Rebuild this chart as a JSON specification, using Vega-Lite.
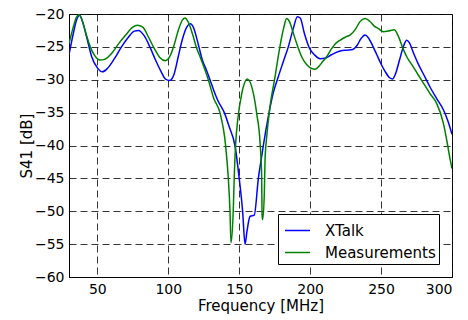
{
  "$schema": "https://vega.github.io/schema/vega-lite/v6.json",
  "width": 383,
  "height": 263,
  "autosize": {"type": "none"},
  "padding": {"left": 69, "top": 14, "right": 16, "bottom": 43},
  "background": "white",
  "config": {
    "font": "DejaVu Sans",
    "view": {"stroke": "black", "strokeWidth": 1}
  },
  "data": {
    "values": [
      {"s": "XTalk", "f": 30, "db": -26.2},
      {"s": "XTalk", "f": 33, "db": -23},
      {"s": "XTalk", "f": 35.5, "db": -20.8},
      {"s": "XTalk", "f": 37.5, "db": -20.2},
      {"s": "XTalk", "f": 40, "db": -21.5},
      {"s": "XTalk", "f": 43, "db": -24},
      {"s": "XTalk", "f": 46, "db": -26.5},
      {"s": "XTalk", "f": 50, "db": -28.2},
      {"s": "XTalk", "f": 53.5, "db": -28.8},
      {"s": "XTalk", "f": 57, "db": -28.3},
      {"s": "XTalk", "f": 62, "db": -26.8},
      {"s": "XTalk", "f": 67, "db": -25},
      {"s": "XTalk", "f": 72, "db": -23.5},
      {"s": "XTalk", "f": 76, "db": -22.6},
      {"s": "XTalk", "f": 79, "db": -22.5},
      {"s": "XTalk", "f": 83, "db": -23.3},
      {"s": "XTalk", "f": 87, "db": -25},
      {"s": "XTalk", "f": 91, "db": -27},
      {"s": "XTalk", "f": 95, "db": -28.8},
      {"s": "XTalk", "f": 98, "db": -29.9},
      {"s": "XTalk", "f": 101, "db": -30.1},
      {"s": "XTalk", "f": 104, "db": -29.2},
      {"s": "XTalk", "f": 107, "db": -26.5},
      {"s": "XTalk", "f": 110, "db": -23.8},
      {"s": "XTalk", "f": 113, "db": -22},
      {"s": "XTalk", "f": 115.5, "db": -21.5},
      {"s": "XTalk", "f": 118, "db": -22.2},
      {"s": "XTalk", "f": 121, "db": -24.5},
      {"s": "XTalk", "f": 124, "db": -27},
      {"s": "XTalk", "f": 127, "db": -28.6},
      {"s": "XTalk", "f": 129.4, "db": -30},
      {"s": "XTalk", "f": 132, "db": -31.6},
      {"s": "XTalk", "f": 135, "db": -33.2},
      {"s": "XTalk", "f": 139.5, "db": -35},
      {"s": "XTalk", "f": 143, "db": -37.2},
      {"s": "XTalk", "f": 147, "db": -40},
      {"s": "XTalk", "f": 150, "db": -45},
      {"s": "XTalk", "f": 152.4, "db": -50},
      {"s": "XTalk", "f": 154.1, "db": -55},
      {"s": "XTalk", "f": 155.5, "db": -53},
      {"s": "XTalk", "f": 157.6, "db": -50.8},
      {"s": "XTalk", "f": 160.6, "db": -50.6},
      {"s": "XTalk", "f": 163.5, "db": -45},
      {"s": "XTalk", "f": 165.8, "db": -41.7},
      {"s": "XTalk", "f": 167, "db": -40},
      {"s": "XTalk", "f": 170.5, "db": -35.6},
      {"s": "XTalk", "f": 174, "db": -32},
      {"s": "XTalk", "f": 177.6, "db": -29.5},
      {"s": "XTalk", "f": 181, "db": -27.3},
      {"s": "XTalk", "f": 184.6, "db": -25},
      {"s": "XTalk", "f": 188, "db": -22.3},
      {"s": "XTalk", "f": 191, "db": -20.4},
      {"s": "XTalk", "f": 193, "db": -20.6},
      {"s": "XTalk", "f": 196, "db": -23},
      {"s": "XTalk", "f": 199.5, "db": -25.2},
      {"s": "XTalk", "f": 203, "db": -26.2},
      {"s": "XTalk", "f": 207, "db": -26.8},
      {"s": "XTalk", "f": 211, "db": -26.7},
      {"s": "XTalk", "f": 215, "db": -26.2},
      {"s": "XTalk", "f": 220, "db": -25.7},
      {"s": "XTalk", "f": 225, "db": -25.5},
      {"s": "XTalk", "f": 230, "db": -25.4},
      {"s": "XTalk", "f": 233, "db": -24.8},
      {"s": "XTalk", "f": 236, "db": -23.7},
      {"s": "XTalk", "f": 238.7, "db": -23.2},
      {"s": "XTalk", "f": 241, "db": -23.6},
      {"s": "XTalk", "f": 244, "db": -24.8},
      {"s": "XTalk", "f": 247, "db": -26.2},
      {"s": "XTalk", "f": 250, "db": -27.6},
      {"s": "XTalk", "f": 253, "db": -28.8},
      {"s": "XTalk", "f": 256, "db": -29.7},
      {"s": "XTalk", "f": 258, "db": -29.9},
      {"s": "XTalk", "f": 260, "db": -29.2},
      {"s": "XTalk", "f": 263, "db": -27},
      {"s": "XTalk", "f": 266, "db": -24.8},
      {"s": "XTalk", "f": 268, "db": -24},
      {"s": "XTalk", "f": 270, "db": -24.4},
      {"s": "XTalk", "f": 273, "db": -26},
      {"s": "XTalk", "f": 276, "db": -27.5},
      {"s": "XTalk", "f": 280, "db": -29.2},
      {"s": "XTalk", "f": 284.5, "db": -31.1},
      {"s": "XTalk", "f": 289, "db": -32.8},
      {"s": "XTalk", "f": 294, "db": -34.6},
      {"s": "XTalk", "f": 297, "db": -36.2},
      {"s": "XTalk", "f": 300, "db": -38.3},
      {"s": "Measurements", "f": 30, "db": -24.5},
      {"s": "Measurements", "f": 33, "db": -22},
      {"s": "Measurements", "f": 35, "db": -20.6},
      {"s": "Measurements", "f": 37, "db": -20.1},
      {"s": "Measurements", "f": 39, "db": -20.8},
      {"s": "Measurements", "f": 42, "db": -23},
      {"s": "Measurements", "f": 45, "db": -25},
      {"s": "Measurements", "f": 48, "db": -26.3},
      {"s": "Measurements", "f": 51.9, "db": -27},
      {"s": "Measurements", "f": 55, "db": -26.9},
      {"s": "Measurements", "f": 60, "db": -26},
      {"s": "Measurements", "f": 65, "db": -24.5},
      {"s": "Measurements", "f": 70, "db": -23.2},
      {"s": "Measurements", "f": 75, "db": -22},
      {"s": "Measurements", "f": 78.2, "db": -21.7},
      {"s": "Measurements", "f": 82, "db": -22},
      {"s": "Measurements", "f": 86, "db": -23.5},
      {"s": "Measurements", "f": 90, "db": -25.2},
      {"s": "Measurements", "f": 94, "db": -26.6},
      {"s": "Measurements", "f": 98, "db": -27.1},
      {"s": "Measurements", "f": 101, "db": -26.5},
      {"s": "Measurements", "f": 104, "db": -24.8},
      {"s": "Measurements", "f": 107, "db": -22.5},
      {"s": "Measurements", "f": 110, "db": -20.9},
      {"s": "Measurements", "f": 111.8, "db": -20.6},
      {"s": "Measurements", "f": 114, "db": -21.2},
      {"s": "Measurements", "f": 117, "db": -23},
      {"s": "Measurements", "f": 120, "db": -25.2},
      {"s": "Measurements", "f": 122.4, "db": -26.5},
      {"s": "Measurements", "f": 125, "db": -28},
      {"s": "Measurements", "f": 128.2, "db": -30},
      {"s": "Measurements", "f": 132, "db": -32.8},
      {"s": "Measurements", "f": 136.4, "db": -35},
      {"s": "Measurements", "f": 140.4, "db": -40},
      {"s": "Measurements", "f": 142.3, "db": -45},
      {"s": "Measurements", "f": 143.5, "db": -50},
      {"s": "Measurements", "f": 144.2, "db": -54.8},
      {"s": "Measurements", "f": 145.8, "db": -49.8},
      {"s": "Measurements", "f": 146.5, "db": -44.8},
      {"s": "Measurements", "f": 147.5, "db": -39.7},
      {"s": "Measurements", "f": 148.9, "db": -36.2},
      {"s": "Measurements", "f": 151.7, "db": -32.2},
      {"s": "Measurements", "f": 155.7, "db": -29.9},
      {"s": "Measurements", "f": 159.9, "db": -32},
      {"s": "Measurements", "f": 162.3, "db": -35.1},
      {"s": "Measurements", "f": 164.7, "db": -39.6},
      {"s": "Measurements", "f": 165.8, "db": -44.6},
      {"s": "Measurements", "f": 166.1, "db": -50.5},
      {"s": "Measurements", "f": 166.5, "db": -51.3},
      {"s": "Measurements", "f": 167.7, "db": -47.2},
      {"s": "Measurements", "f": 168.2, "db": -42.2},
      {"s": "Measurements", "f": 169.4, "db": -38.6},
      {"s": "Measurements", "f": 171.7, "db": -34.1},
      {"s": "Measurements", "f": 175.2, "db": -29.6},
      {"s": "Measurements", "f": 177.1, "db": -27},
      {"s": "Measurements", "f": 179.5, "db": -24},
      {"s": "Measurements", "f": 181.5, "db": -22},
      {"s": "Measurements", "f": 183.4, "db": -20.7},
      {"s": "Measurements", "f": 185.5, "db": -21.2},
      {"s": "Measurements", "f": 188.1, "db": -22.9},
      {"s": "Measurements", "f": 191, "db": -24.8},
      {"s": "Measurements", "f": 194, "db": -26.5},
      {"s": "Measurements", "f": 198, "db": -27.8},
      {"s": "Measurements", "f": 201, "db": -28.3},
      {"s": "Measurements", "f": 203.4, "db": -28.4},
      {"s": "Measurements", "f": 206, "db": -28},
      {"s": "Measurements", "f": 209, "db": -27.2},
      {"s": "Measurements", "f": 211.6, "db": -26.5},
      {"s": "Measurements", "f": 215, "db": -25.3},
      {"s": "Measurements", "f": 218, "db": -24.5},
      {"s": "Measurements", "f": 221, "db": -24},
      {"s": "Measurements", "f": 225, "db": -23.5},
      {"s": "Measurements", "f": 228.1, "db": -23.2},
      {"s": "Measurements", "f": 232, "db": -22.3},
      {"s": "Measurements", "f": 235, "db": -21.2},
      {"s": "Measurements", "f": 238.7, "db": -20.7},
      {"s": "Measurements", "f": 242, "db": -21.1},
      {"s": "Measurements", "f": 245, "db": -21.8},
      {"s": "Measurements", "f": 248, "db": -22.2},
      {"s": "Measurements", "f": 251.6, "db": -22.7},
      {"s": "Measurements", "f": 255, "db": -22.6},
      {"s": "Measurements", "f": 259.3, "db": -22.4},
      {"s": "Measurements", "f": 262, "db": -23.3},
      {"s": "Measurements", "f": 265, "db": -25},
      {"s": "Measurements", "f": 268.1, "db": -26.5},
      {"s": "Measurements", "f": 272, "db": -27.8},
      {"s": "Measurements", "f": 276, "db": -29.2},
      {"s": "Measurements", "f": 279.8, "db": -30.5},
      {"s": "Measurements", "f": 284.5, "db": -32.1},
      {"s": "Measurements", "f": 289.2, "db": -33.6},
      {"s": "Measurements", "f": 293.9, "db": -36.6},
      {"s": "Measurements", "f": 296.3, "db": -39.2},
      {"s": "Measurements", "f": 298.6, "db": -42},
      {"s": "Measurements", "f": 300, "db": -43.5}
    ]
  },
  "mark": {"type": "line", "strokeWidth": 1.5, "interpolate": "monotone", "clip": true},
  "encoding": {
    "x": {
      "field": "f",
      "type": "quantitative",
      "scale": {"domain": [30, 300], "nice": false, "zero": false},
      "axis": {
        "values": [50, 100, 150, 200, 250, 300],
        "title": "Frequency [MHz]",
        "titleFont": "DejaVu Sans",
        "titleFontSize": 15,
        "titleFontWeight": "normal",
        "titleColor": "black",
        "titlePadding": 2,
        "labelFont": "DejaVu Sans",
        "labelFontSize": 14,
        "labelColor": "black",
        "labelPadding": 5,
        "ticks": false,
        "domainColor": "black",
        "grid": true,
        "gridColor": "#111111",
        "gridDash": [7, 4],
        "gridWidth": 1,
        "gridOpacity": 0.85
      }
    },
    "y": {
      "field": "db",
      "type": "quantitative",
      "scale": {"domain": [-60, -20], "nice": false, "zero": false},
      "axis": {
        "values": [-60, -55, -50, -45, -40, -35, -30, -25, -20],
        "title": "S41 [dB]",
        "titleFont": "DejaVu Sans",
        "titleFontSize": 15,
        "titleFontWeight": "normal",
        "titleColor": "black",
        "titlePadding": 0,
        "labelFont": "DejaVu Sans",
        "labelFontSize": 14,
        "labelColor": "black",
        "labelPadding": 5,
        "ticks": false,
        "domainColor": "black",
        "grid": true,
        "gridColor": "#111111",
        "gridDash": [7, 4],
        "gridWidth": 1,
        "gridOpacity": 0.85
      }
    },
    "color": {
      "field": "s",
      "type": "nominal",
      "sort": ["XTalk", "Measurements"],
      "scale": {"domain": ["XTalk", "Measurements"], "range": ["#0000ff", "#008000"]},
      "legend": {
        "title": null,
        "orient": "none",
        "legendX": 209,
        "legendY": 200,
        "direction": "vertical",
        "symbolType": "stroke",
        "symbolSize": 625,
        "symbolStrokeWidth": 1.5,
        "symbolOffset": 3,
        "labelFont": "DejaVu Sans",
        "labelFontSize": 15,
        "labelColor": "black",
        "labelOffset": 14,
        "padding": 3,
        "rowPadding": 0,
        "strokeColor": "black",
        "fillColor": "white",
        "cornerRadius": 0
      }
    }
  }
}
